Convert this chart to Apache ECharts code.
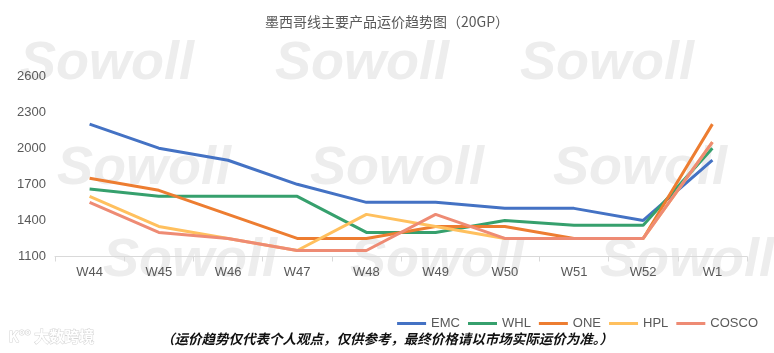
<!DOCTYPE html>
<html>
<head>
<meta charset="utf-8">
<script src="https://cdn.jsdelivr.net/npm/echarts@6/dist/echarts.min.js"></script>
<style>
  html, body { margin: 0; padding: 0; background: #fff; }
  #chart { width: 774px; height: 353px; }
</style>
</head>
<body>
<div id="chart"></div>
<script>
// 周次
const weeks = ['W44', 'W45', 'W46', 'W47', 'W48', 'W49', 'W50', 'W51', 'W52', 'W1']

// 各船司运价 (20GP)
const emc   = [2200, 2000, 1900, 1700, 1550, 1550, 1500, 1500, 1400, 1900]
const whl   = [1660, 1600, 1600, 1600, 1300, 1300, 1400, 1360, 1360, 2000]
const one   = [1750, 1650, 1450, 1250, 1250, 1350, 1350, 1250, 1250, 2200]
const hpl   = [1600, 1350, 1250, 1150, 1450, 1350, 1250, 1250, 1250, 2050]
const cosco = [1550, 1300, 1250, 1150, 1150, 1450, 1250, 1250, 1250, 2050]

const seriesNames = ['EMC', 'WHL', 'ONE', 'HPL', 'COSCO']
const seriesData = [emc, whl, one, hpl, cosco]
const colors = ['#4472C4', '#36A06D', '#ED7D31', '#FFC05E', '#EE8B74']

const chart = echarts.init(document.getElementById('chart'))

// 水印 Sowoll
const marks = [
  [20, 65], [275, 65], [520, 65],
  [57, 170], [310, 170], [553, 170],
  [103, 262], [350, 262], [600, 262]
]
const watermark = marks.map(([x, y]) => ({
  type: 'text',
  left: x,
  top: y - 28,
  z: -10,
  silent: true,
  style: {
    text: 'Sowoll',
    font: 'italic bold 54px "Liberation Sans", Arial, sans-serif',
    fill: '#ededed'
  }
}))

const option = {
  animation: false,
  color: colors,
  title: {
    text: '墨西哥线主要产品运价趋势图（20GP）',
    left: 'center',
    top: 10,
    textStyle: {
      fontSize: 14,
      fontWeight: 'normal',
      color: '#595959',
      fontFamily: '"Noto Sans CJK SC", sans-serif'
    }
  },
  legend: {
    right: 11,
    top: 312,
    icon: 'rect',
    itemWidth: 29,
    itemHeight: 3,
    itemGap: 8,
    textStyle: { color: '#595959', fontSize: 13, fontFamily: '"Liberation Sans", Arial, sans-serif' },
    data: seriesNames
  },
  grid: {
    left: 55,
    right: 27,
    top: 76,
    height: 180.5,
    containLabel: false
  },
  xAxis: {
    type: 'category',
    data: weeks,
    axisLine: { lineStyle: { color: '#d9d9d9', width: 1 } },
    axisTick: { show: true, length: 5, lineStyle: { color: '#d9d9d9' } },
    axisLabel: { color: '#595959', fontSize: 13, margin: 9, fontFamily: '"Liberation Sans", Arial, sans-serif' },
    splitLine: { show: false }
  },
  yAxis: {
    type: 'value',
    min: 1100,
    max: 2600,
    interval: 300,
    axisLine: { show: false },
    axisTick: { show: false },
    splitLine: { show: false },
    axisLabel: {
      color: '#595959',
      fontSize: 13,
      margin: 9,
      fontFamily: '"Liberation Sans", Arial, sans-serif',
      formatter: (v) => String(v)
    }
  },
  series: seriesNames.map((name, i) => ({
    name,
    type: 'line',
    data: seriesData[i],
    symbol: 'none',
    smooth: false,
    lineStyle: { width: 3, color: colors[i] },
    itemStyle: { color: colors[i] }
  })),
  graphic: [
    ...watermark,
    {
      type: 'text',
      left: 'center',
      top: 332,
      style: {
        text: '（运价趋势仅代表个人观点，仅供参考，最终价格请以市场实际运价为准。）',
        font: 'italic bold 13.5px "Noto Sans CJK SC", sans-serif',
        fill: '#111'
      }
    },
    {
      type: 'text',
      left: 8,
      top: 328,
      silent: true,
      style: {
        text: 'K°° 大数跨境',
        font: 'bold 15px "Noto Sans CJK SC", sans-serif',
        fill: '#fff',
        stroke: '#d4d4d4',
        lineWidth: 1
      }
    }
  ]
}

chart.setOption(option)
</script>
</body>
</html>
